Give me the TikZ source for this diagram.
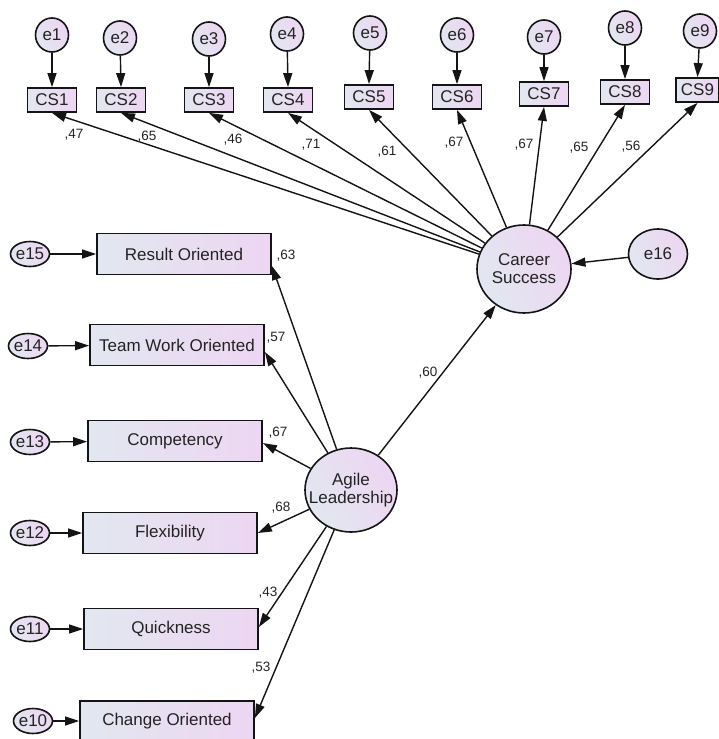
\documentclass[tikz,border=0pt]{standalone}
\usepackage{fontspec}
\setmainfont{Liberation Sans}
\usetikzlibrary{arrows.meta,shapes.geometric,calc}
\definecolor{boxL}{RGB}{226,231,240}
\definecolor{boxR}{RGB}{237,214,242}
\definecolor{lineC}{RGB}{20,20,20}
\definecolor{txtC}{RGB}{35,35,35}
\tikzset{
  lat/.style={ellipse, draw=lineC, line width=1.6pt, inner sep=0pt, align=center,
    left color=boxL, right color=boxR, shading angle=120,
    font=\fontsize{17}{18}\selectfont, text=txtC},
  errtop/.style={lat, minimum width=33pt, minimum height=34pt},
  errleft/.style={lat, minimum width=39pt, minimum height=25pt, inner xsep=-3pt},
  obsbox/.style={rectangle, draw=lineC, line width=1.8pt, inner sep=0pt,
    left color=boxL, right color=boxR,
    font=\fontsize{17}{18}\selectfont, text=txtC},
  csbox/.style={obsbox, minimum width=49pt, minimum height=24pt},
  lbox/.style={obsbox, minimum width=174pt, minimum height=41pt},
  path/.style={draw=lineC, line width=1.4pt, -{Triangle[length=14pt,width=9pt]}},
  lbl/.style={font=\fontsize{13.5}{15}\selectfont, text=txtC, inner sep=0pt},
}
\begin{document}
\begin{tikzpicture}[x=1pt,y=-1pt]
\useasboundingbox (0,0) rectangle (719,739);
% top error terms
\node[errtop] (e1) at (52,35) {e1};
\node[errtop] (e2) at (120,38) {e2};
\node[errtop] (e3) at (209,39) {e3};
\node[errtop] (e4) at (287,34) {e4};
\node[errtop] (e5) at (370,33) {e5};
\node[errtop] (e6) at (457,35) {e6};
\node[errtop] (e7) at (544,37) {e7};
\node[errtop] (e8) at (625,28) {e8};
\node[errtop] (e9) at (700,31) {e9};
% CS indicators
\node[csbox] (cs1) at (52,100) {CS1};
\node[csbox] (cs2) at (121,100) {CS2};
\node[csbox] (cs3) at (209,100) {CS3};
\node[csbox] (cs4) at (288,100) {CS4};
\node[csbox] (cs5) at (369,97) {CS5};
\node[csbox] (cs6) at (457,97) {CS6};
\node[csbox] (cs7) at (544,94) {CS7};
\node[csbox] (cs8) at (625,92) {CS8};
\node[csbox, minimum width=43pt] (cs9) at (697.5,90) {CS9};
% latent variables
\node[lat, minimum width=94pt, minimum height=88pt, inner xsep=-6pt] (cs) at (524,269) {Career\\Success};
\node[lat, minimum width=59pt, minimum height=50pt] (e16) at (658,254) {e16};
\node[lat, minimum width=92pt, minimum height=84pt, inner xsep=-12pt, inner ysep=-4pt] (al) at (351,490) {Agile\\Leadership};
% left indicators
\node[lbox] (ro) at (184,254) {Result Oriented};
\node[lbox] (two) at (177,345) {Team Work Oriented};
\node[lbox] (comp) at (175,441) {Competency};
\node[lbox] (flex) at (170,533) {Flexibility};
\node[lbox] (quick) at (171,629) {Quickness};
\node[lbox, minimum height=40pt] (chg) at (167,721) {Change Oriented};
% left error terms
\node[errleft] (e15) at (30,254) {e15};
\node[errleft] (e14) at (28,346) {e14};
\node[errleft] (e13) at (30,442) {e13};
\node[errleft] (e12) at (30,533) {e12};
\node[errleft] (e11) at (30,629) {e11};
\node[errleft] (e10) at (33,721) {e10};
% error arrows (top)
\foreach \i in {1,...,9} { \draw[path] (e\i) -- (cs\i.north); }
% loadings of career success
\foreach \i in {1,...,9} { \draw[path] (cs) -- (cs\i.south); }
% error arrows (left)
\draw[path] (e15) -- (ro);
\draw[path] (e14) -- (two);
\draw[path] (e13) -- (comp);
\draw[path] (e12) -- (flex);
\draw[path] (e11) -- (quick);
\draw[path] (e10) -- (chg);
% loadings of agile leadership
\draw[path] (al) -- ($(ro.east)+(0,12)$);
\draw[path] (al) -- ($(two.east)+(0,7)$);
\draw[path] (al) -- ($(comp.east)+(0,2)$);
\draw[path] (al) -- (flex.east);
\draw[path] (al) -- ($(quick.east)+(0,-2)$);
\draw[path] (al) -- ($(chg.east)+(0,-3)$);
% structural path and disturbance
\draw[path] (al) -- (cs);
\draw[path] (e16) -- (cs);
% labels
\node[lbl] (l1) at (74,135) {,47};
\node[lbl] (l2) at (147,137) {,65};
\node[lbl] (l3) at (233,140) {,46};
\node[lbl] (l4) at (311,145) {,71};
\node[lbl] (l5) at (387,152) {,61};
\node[lbl] (l6) at (454,143) {,67};
\node[lbl] (l7) at (524,145) {,67};
\node[lbl] (l8) at (579,148) {,65};
\node[lbl] (l9) at (631,147) {,56};
\node[lbl] (m1) at (286,256) {,63};
\node[lbl] (m2) at (276,338) {,57};
\node[lbl] (m3) at (278,433) {,67};
\node[lbl] (m4) at (281,508) {,68};
\node[lbl] (m5) at (268,593) {,43};
\node[lbl] (m6) at (261,668) {,53};
\node[lbl] (m7) at (428,373) {,60};
\end{tikzpicture}
\end{document}
